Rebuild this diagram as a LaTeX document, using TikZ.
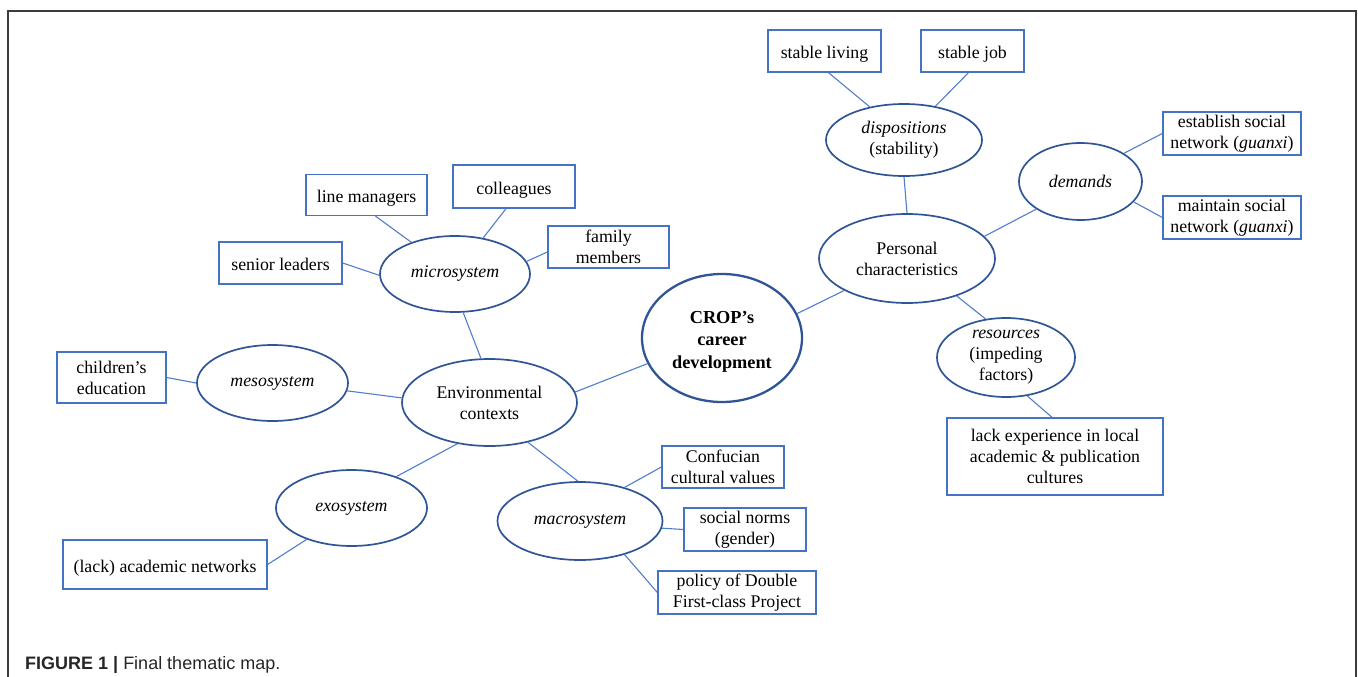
\documentclass[tikz,border=0pt]{standalone}
\usepackage{fontspec}
\setmainfont{Liberation Serif}
\newfontfamily\capfont{Liberation Sans}
\usetikzlibrary{shapes.geometric}
\definecolor{boxblue}{RGB}{68,114,196}
\definecolor{ellblue}{RGB}{47,85,151}
\definecolor{lineblue}{RGB}{80,125,205}
\definecolor{framegray}{RGB}{60,60,60}
\begin{document}
\begin{tikzpicture}[x=1pt,y=-1pt,
 every node/.style={font=\fontsize{17.8}{21}\selectfont, text=black},
 bx/.style={draw=boxblue, line width=1.3pt, inner sep=0pt, align=center},
 bxs/.style={bx,
   execute at begin node={\rule[-4.5pt]{0pt}{24.4pt}},
   execute at end node={\rule[-4.5pt]{0pt}{4.5pt}}},
 el/.style={ellipse, draw=ellblue, line width=1.7pt, inner sep=-8pt, align=center},
 ln/.style={draw=lineblue, line width=1.1pt}]
\useasboundingbox (0,0) rectangle (1358,677);
\draw[line width=1.3pt, framegray] (8,677) -- (8,11) -- (1356,11) -- (1356,677);

% boxes
\node[bxs, minimum width=113, minimum height=42] (sl) at (824.5,51) {stable living};
\node[bxs, minimum width=103, minimum height=42] (sj) at (972.5,51) {stable job};
\node[bx, minimum width=138, minimum height=43] (est) at (1232,133.5) {establish social\\network (\textit{guanxi})};
\node[bx, minimum width=138, minimum height=43] (mai) at (1232,217.5) {maintain social\\network (\textit{guanxi})};
\node[bxs, minimum width=121, minimum height=41] (lm) at (366.5,195) {line managers};
\node[bxs, minimum width=122, minimum height=43] (col) at (514,186.5) {colleagues};
\node[bx, minimum width=121, minimum height=42] (fam) at (608.5,247) {family\\members};
\node[bxs, minimum width=123, minimum height=42] (sen) at (280.5,263) {senior leaders};
\node[bx, minimum width=109, minimum height=51] (chi) at (111.5,377.5) {children’s\\education};
\node[bxs, minimum width=204, minimum height=49] (lan) at (165,564.5) {(lack) academic networks};
\node[bx, minimum width=122, minimum height=42] (con) at (723,467) {Confucian\\cultural values};
\node[bx, minimum width=122, minimum height=43] (soc) at (745,529.5) {social norms\\(gender)};
\node[bx, minimum width=158, minimum height=43] (pol) at (737,592.5) {policy of Double\\First-class Project};
\node[bx, minimum width=216, minimum height=77] (lex) at (1055,456.5) {lack experience in local\\academic \& publication\\cultures};

% ellipses
\node[el, minimum width=156, minimum height=72] (dis) at (904,140) {\textit{dispositions}\\(stability)};
\node[el, minimum width=123, minimum height=77] (dem) at (1080.5,181.5) {\textit{demands}};
\node[el, minimum width=176, minimum height=89] (pc) at (907,258.5) {Personal\\characteristics};
\node[ellipse, draw=ellblue, line width=2.3pt, inner sep=-8pt, minimum width=160, minimum height=128,
   font=\fontsize{18.3}{22.5}\selectfont\bfseries] (crop) at (722,338)
   {\raisebox{-3pt}[\height][\depth]{\begin{tabular}{@{}c@{}}CROP’s\\career\\development\end{tabular}}};
\node[el, minimum width=138, minimum height=79] (res) at (1006,357.5) {\textit{resources}\\(impeding\\factors)};
\node[el, minimum width=150, minimum height=76] (mic) at (455,274) {\textit{microsystem}};
\node[el, minimum width=151, minimum height=76] (mes) at (272.5,383) {\textit{mesosystem}};
\node[el, minimum width=175, minimum height=87] (env) at (489.5,402.5) {Environmental\\contexts};
\node[el, minimum width=151, minimum height=76] (exo) at (351.5,508) {\textit{exosystem}};
\node[el, minimum width=165, minimum height=78] (mac) at (580,521) {\textit{macrosystem}};

% connectors
\draw[ln] ([xshift=4pt]sl.south) -- (dis.136);
\draw[ln] ([xshift=-4pt]sj.south) -- (dis.47);
\draw[ln] (dis.south) -- (pc.north);
\draw[ln] (pc.16) -- (dem.212);
\draw[ln] (dem.33) -- (est.west);
\draw[ln] (dem.-21) -- (mai.west);
\draw[ln] (pc.-37) -- (res.118);
\draw[ln] (res.-61) -- ([xshift=-3pt]lex.north);
\draw[ln] (crop.18) -- (pc.207);
\draw[ln] (env.7) -- (crop.199);
\draw[ln] (env.101) -- (mic.-78);
\draw[ln] (mic.144) -- ([xshift=9pt]lm.south);
\draw[ln] (mic.52) -- ([xshift=-8pt]col.south);
\draw[ln] (mic.10) -- ([yshift=-5pt]fam.west);
\draw[ln] (mic.181) -- (sen.east);
\draw[ln] (env.177) -- (mes.-6);
\draw[ln] (mes.west) -- (chi.east);
\draw[ln] (env.232) -- (exo.35);
\draw[ln] (exo.215) -- (lan.east);
\draw[ln] (env.-46) -- (mac.93);
\draw[ln] (mac.37) -- (con.west);
\draw[ln] (mac.-5) -- (soc.west);
\draw[ln] (mac.-37) -- (pol.west);

% caption
\node[anchor=base west, inner sep=0pt, font=\capfont\fontsize{18}{20}\selectfont, text=black!85] (cap) at (25,669) {\textbf{FIGURE 1 |} Final thematic map.};
\end{tikzpicture}
\end{document}
